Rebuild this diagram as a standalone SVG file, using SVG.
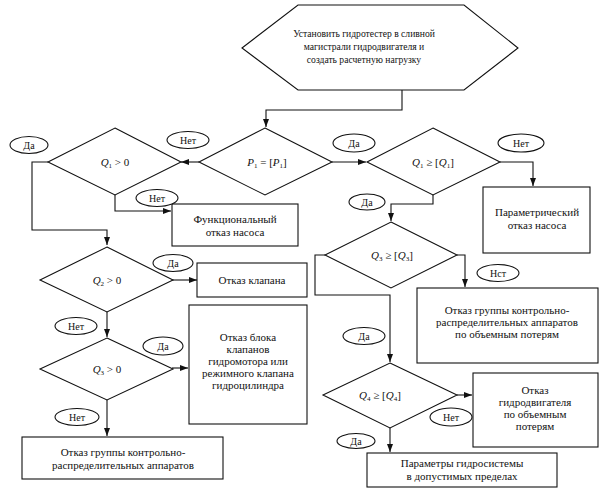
<svg xmlns="http://www.w3.org/2000/svg" width="605" height="499" viewBox="0 0 605 499">
<style>
.s{fill:#fff;stroke:#111;stroke-width:1.1}
.c{fill:none;stroke:#111;stroke-width:1.1}
text{font-family:"Liberation Serif","Times New Roman",serif;fill:#111;text-anchor:middle}
.t{font-size:11px}
.h{font-size:9.6px}
.l{font-size:10px}
.m{font-size:11px}
.i{font-style:italic}
.sb{font-size:7px}
</style>
<defs>
<marker id="a" markerWidth="8" markerHeight="6" refX="8" refY="3" orient="auto" markerUnits="userSpaceOnUse">
<path d="M0,0 L8,3 L0,6 z" fill="#111"/>
</marker>
</defs>
<rect width="605" height="499" fill="#fff"/>

<g id="connectors">
<path class="c" d="M402,90 V110 H266 V127" marker-end="url(#a)"/>
<path class="c" d="M199,162 H181" marker-end="url(#a)"/>
<path class="c" d="M332,162 H366" marker-end="url(#a)"/>
<path class="c" d="M500,162 H533 V186" marker-end="url(#a)"/>
<path class="c" d="M48,162 H32 V230 H107 V245" marker-end="url(#a)"/>
<path class="c" d="M115,195 V211 H171" marker-end="url(#a)"/>
<path class="c" d="M433,195 V204 H391 V221" marker-end="url(#a)"/>
<path class="c" d="M457,255 H465 V287" marker-end="url(#a)"/>
<path class="c" d="M325,255 H315 V295 H390 V362" marker-end="url(#a)"/>
<path class="c" d="M457,395 H472" marker-end="url(#a)"/>
<path class="c" d="M390,428 V452" marker-end="url(#a)"/>
<path class="c" d="M172,280 H197" marker-end="url(#a)"/>
<path class="c" d="M107,312 V337" marker-end="url(#a)"/>
<path class="c" d="M172,368 H188" marker-end="url(#a)"/>
<path class="c" d="M107,400 V436" marker-end="url(#a)"/>
</g>

<g id="start">
<path class="s" d="M242,48 L298,5 H464 L518,48 L464,90 H298 Z"/>
<text class="h" x="364" y="37">Установить гидротестер в сливной</text>
<text class="h" x="364" y="50">магистрали гидродвигателя и</text>
<text class="h" x="364" y="63">создать расчетную нагрузку</text>
</g>

<g id="p1">
<path class="s" d="M265,128 L332,162 L265,195 L199,162 Z"/>
<text class="m" x="267" y="166"><tspan class="i">P</tspan><tspan class="sb" dy="2">1</tspan><tspan dy="-2"> = [</tspan><tspan class="i">P</tspan><tspan class="sb" dy="2">1</tspan><tspan dy="-2">]</tspan></text>
</g>

<g id="q1zero">
<path class="s" d="M115,128 L181,162 L115,195 L48,162 Z"/>
<text class="m" x="115" y="166"><tspan class="i">Q</tspan><tspan class="sb" dy="2">1</tspan><tspan dy="-2"> &gt; 0</tspan></text>
</g>

<g id="q1norm">
<path class="s" d="M433,128 L500,162 L433,195 L367,162 Z"/>
<text class="m" x="433" y="166"><tspan class="i">Q</tspan><tspan class="sb" dy="2">1</tspan><tspan dy="-2"> ≥ [</tspan><tspan class="i">Q</tspan><tspan class="sb" dy="2">1</tspan><tspan dy="-2">]</tspan></text>
</g>

<g id="q2zero">
<path class="s" d="M107,247 L173,280 L107,312 L40,280 Z"/>
<text class="m" x="107" y="284"><tspan class="i">Q</tspan><tspan class="sb" dy="2">2</tspan><tspan dy="-2"> &gt; 0</tspan></text>
</g>

<g id="q3zero">
<path class="s" d="M107,338 L173,369 L107,400 L40,369 Z"/>
<text class="m" x="107" y="373"><tspan class="i">Q</tspan><tspan class="sb" dy="2">3</tspan><tspan dy="-2"> &gt; 0</tspan></text>
</g>

<g id="q3norm">
<path class="s" d="M391,222 L457,255 L391,288 L325,255 Z"/>
<text class="m" x="392" y="259"><tspan class="i">Q</tspan><tspan class="sb" dy="2">3</tspan><tspan dy="-2"> ≥ [</tspan><tspan class="i">Q</tspan><tspan class="sb" dy="2">3</tspan><tspan dy="-2">]</tspan></text>
</g>

<g id="q4norm">
<path class="s" d="M390,363 L457,395 L390,428 L323,395 Z"/>
<text class="m" x="380" y="399"><tspan class="i">Q</tspan><tspan class="sb" dy="2">4</tspan><tspan dy="-2"> ≥ [</tspan><tspan class="i">Q</tspan><tspan class="sb" dy="2">4</tspan><tspan dy="-2">]</tspan></text>
</g>

<g id="box-func">
<rect class="s" x="172" y="204" width="126" height="42"/>
<text class="t" x="235" y="223">Функциональный</text>
<text class="t" x="235" y="236">отказ насоса</text>
</g>

<g id="box-param">
<rect class="s" x="483" y="187" width="107" height="66"/>
<text class="t" x="537" y="216">Параметрический</text>
<text class="t" x="537" y="229">отказ насоса</text>
</g>

<g id="box-valve">
<rect class="s" x="197" y="263" width="110" height="34"/>
<text class="t" x="252" y="284">Отказ клапана</text>
</g>

<g id="box-block">
<rect class="s" x="189" y="305" width="118" height="119"/>
<text class="t" x="248" y="341">Отказ блока</text>
<text class="t" x="248" y="353">клапанов</text>
<text class="t" x="248" y="365">гидромотора или</text>
<text class="t" x="248" y="377">режимного клапана</text>
<text class="t" x="248" y="389">гидроцилиндра</text>
</g>

<g id="box-group1">
<rect class="s" x="22" y="437" width="201" height="42"/>
<text class="t" x="123" y="456">Отказ группы контрольно-</text>
<text class="t" x="123" y="469">распределительных аппаратов</text>
</g>

<g id="box-group2">
<rect class="s" x="417" y="288" width="181" height="75"/>
<text class="t" x="507" y="314">Отказ группы контрольно-</text>
<text class="t" x="507" y="326">распределительных аппаратов</text>
<text class="t" x="507" y="338">по объемным потерям</text>
</g>

<g id="box-motor">
<rect class="s" x="473" y="373" width="125" height="74"/>
<text class="t" x="535" y="394">Отказ</text>
<text class="t" x="535" y="406">гидродвигателя</text>
<text class="t" x="535" y="418">по объемным</text>
<text class="t" x="535" y="430">потерям</text>
</g>

<g id="box-ok">
<rect class="s" x="367" y="453" width="190" height="34"/>
<text class="t" x="462" y="467">Параметры гидросистемы</text>
<text class="t" x="462" y="480">в допустимых пределах</text>
</g>

<g id="labels">
<ellipse class="s" cx="29" cy="145" rx="19" ry="8.5"/>
<text class="l" x="29" y="148.5">Да</text>
<ellipse class="s" cx="188" cy="140" rx="21" ry="8.5"/>
<text class="l" x="188" y="143.5">Нет</text>
<ellipse class="s" cx="157" cy="198" rx="21" ry="8.5"/>
<text class="l" x="157" y="201.5">Нет</text>
<ellipse class="s" cx="354" cy="143" rx="21" ry="9"/>
<text class="l" x="354" y="146.5">Да</text>
<ellipse class="s" cx="521" cy="143" rx="23" ry="9"/>
<text class="l" x="521" y="146.5">Нет</text>
<ellipse class="s" cx="367" cy="202" rx="18" ry="8"/>
<text class="l" x="367" y="205.5">Да</text>
<ellipse class="s" cx="173" cy="263" rx="20" ry="8.5"/>
<text class="l" x="173" y="266.5">Да</text>
<ellipse class="s" cx="498" cy="273" rx="21" ry="8.5"/>
<text class="l" x="498" y="276.5">Нст</text>
<ellipse class="s" cx="76" cy="326" rx="21" ry="8.5"/>
<text class="l" x="76" y="329.5">Нет</text>
<ellipse class="s" cx="163" cy="346" rx="20" ry="9"/>
<text class="l" x="163" y="349.5">Да</text>
<ellipse class="s" cx="364" cy="336" rx="21" ry="8.5"/>
<text class="l" x="364" y="339.5">Да</text>
<ellipse class="s" cx="77" cy="417" rx="22" ry="8.5"/>
<text class="l" x="77" y="420.5">Нет</text>
<ellipse class="s" cx="451" cy="417" rx="21" ry="9"/>
<text class="l" x="451" y="420.5">Нет</text>
<ellipse class="s" cx="356" cy="441" rx="19" ry="7.5"/>
<text class="l" x="356" y="444.5">Да</text>
</g>
</svg>
